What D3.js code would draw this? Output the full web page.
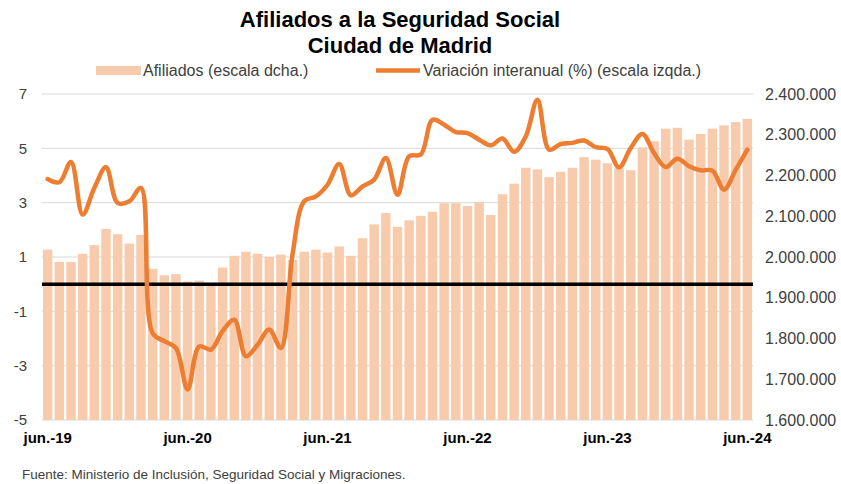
<!DOCTYPE html>
<html>
<head>
<meta charset="utf-8">
<script src="https://cdn.jsdelivr.net/npm/d3@7"></script>
<style>
  body { margin: 0; background: #fff; }
  svg { display: block; font-family: "Liberation Sans", Arial, sans-serif; }
</style>
</head>
<body>
<svg id="chart"></svg>
<script>
// months jun.-19 .. jun.-24
const months = [
  "jun.-19","jul.-19","ago.-19","sep.-19","oct.-19","nov.-19","dic.-19","ene.-20","feb.-20","mar.-20","abr.-20","may.-20",
  "jun.-20","jul.-20","ago.-20","sep.-20","oct.-20","nov.-20","dic.-20","ene.-21","feb.-21","mar.-21","abr.-21","may.-21",
  "jun.-21","jul.-21","ago.-21","sep.-21","oct.-21","nov.-21","dic.-21","ene.-22","feb.-22","mar.-22","abr.-22","may.-22",
  "jun.-22","jul.-22","ago.-22","sep.-22","oct.-22","nov.-22","dic.-22","ene.-23","feb.-23","mar.-23","abr.-23","may.-23",
  "jun.-23","jul.-23","ago.-23","sep.-23","oct.-23","nov.-23","dic.-23","ene.-24","feb.-24","mar.-24","abr.-24","may.-24",
  "jun.-24"
];

// afiliados (escala dcha.)
const afiliados = [
  2018000, 1988000, 1988000, 2008000, 2029000, 2069000, 2056000, 2033000, 2054000, 1971000, 1955000, 1958000,
  1940000, 1942000, 1932000, 1974000, 2003000, 2013000, 2008000, 2000000, 2006000, 1993000, 2013000, 2018000,
  2011000, 2026000, 2003000, 2046000, 2080000, 2108000, 2074000, 2090000, 2101000, 2111000, 2132000, 2132000,
  2125000, 2135000, 2103000, 2154000, 2180000, 2219000, 2215000, 2196000, 2209000, 2219000, 2245000, 2239000,
  2230000, 2218000, 2213000, 2269000, 2284000, 2315000, 2317000, 2288000, 2302000, 2315000, 2323000, 2331000,
  2339000
];

// variación interanual % (escala izqda.)
const variacion = [
  3.87, 3.75, 4.50, 2.56, 3.54, 4.30, 2.99, 3.05, 3.54, -1.80, -2.10, -2.35,
  -3.88, -2.29, -2.41, -1.73, -1.31, -2.65, -2.23, -1.67, -2.35, 1.10, 3.05, 3.23,
  3.66, 4.42, 3.27, 3.60, 3.85, 4.64, 3.29, 4.71, 4.77, 6.05, 5.87, 5.60,
  5.56, 5.32, 5.11, 5.36, 4.87, 5.44, 6.79, 4.95, 5.16, 5.20, 5.29, 5.04,
  4.98, 4.30, 5.01, 5.53, 4.83, 4.31, 4.62, 4.34, 4.19, 4.18, 3.48, 4.21,
  4.95
];

const leftTicks = [7, 5, 3, 1, -1, -3, -5];
const rightTicks = [1600000, 1700000, 1800000, 1900000, 2000000, 2100000, 2200000, 2300000, 2400000];
const xLabels = ["jun.-19", "jun.-20", "jun.-21", "jun.-22", "jun.-23", "jun.-24"];

const W = 841, H = 484;
const margin = { top: 94, left: 42, right: 88, bottom: 64 };
const plotW = W - margin.left - margin.right;
const plotH = H - margin.top - margin.bottom;

const es = d3.formatLocale({ decimal: ",", thousands: ".", grouping: [3], currency: ["", " €"] });
const fmtNum = es.format(",.0f");

const svg = d3.select("#chart").attr("width", W).attr("height", H);
const g = svg.append("g").attr("transform", `translate(${margin.left},${margin.top})`);

const x = d3.scaleBand().domain(months).range([0, plotW]).paddingInner(0.19).paddingOuter(0.08);
const yL = d3.scaleLinear().domain([-5, 7]).range([plotH, 0]);
const yR = d3.scaleLinear().domain([1600000, 2400000]).range([plotH, 0]);

// gridlines
g.append("g").selectAll("line")
  .data(leftTicks)
  .join("line")
  .attr("x1", 0).attr("x2", plotW)
  .attr("y1", d => yL(d)).attr("y2", d => yL(d))
  .attr("stroke", "#d9d9d9").attr("stroke-width", 1);

// bars
g.append("g").selectAll("rect")
  .data(afiliados)
  .join("rect")
  .attr("x", (d, i) => x(months[i]))
  .attr("width", x.bandwidth())
  .attr("y", d => yR(d))
  .attr("height", d => plotH - yR(d))
  .attr("fill", "#f8cbad");

// zero line
g.append("line")
  .attr("x1", 0).attr("x2", plotW)
  .attr("y1", yL(0)).attr("y2", yL(0))
  .attr("stroke", "#000").attr("stroke-width", 3.5);

// variation line
const line = d3.line()
  .x((d, i) => x(months[i]) + x.bandwidth() / 2)
  .y(d => yL(d))
  .curve(d3.curveCatmullRom.alpha(0.5));

g.append("path")
  .datum(variacion)
  .attr("d", line)
  .attr("fill", "none")
  .attr("stroke", "#ed7d31")
  .attr("stroke-width", 4.5)
  .attr("stroke-linejoin", "round")
  .attr("stroke-linecap", "round");

// left axis labels
g.append("g").selectAll("text")
  .data(leftTicks)
  .join("text")
  .attr("x", -15).attr("y", d => yL(d))
  .attr("dy", "0.35em")
  .attr("text-anchor", "end")
  .attr("font-size", 15)
  .attr("fill", "#404040")
  .text(d => d);

// right axis labels
g.append("g").selectAll("text")
  .data(rightTicks)
  .join("text")
  .attr("x", plotW + 12).attr("y", d => yR(d))
  .attr("dy", "0.35em")
  .attr("font-size", 16)
  .attr("fill", "#404040")
  .text(d => fmtNum(d));

// x labels
g.append("g").selectAll("text")
  .data(xLabels)
  .join("text")
  .attr("x", d => x(d) + x.bandwidth() / 2)
  .attr("y", plotH + 23)
  .attr("text-anchor", "middle")
  .attr("font-size", 15)
  .attr("font-weight", "bold")
  .attr("fill", "#000")
  .text(d => d);

// title
svg.append("text")
  .attr("x", 400).attr("y", 27)
  .attr("text-anchor", "middle")
  .attr("font-size", 22).attr("font-weight", "bold")
  .text("Afiliados a la Seguridad Social");
svg.append("text")
  .attr("x", 400).attr("y", 53)
  .attr("text-anchor", "middle")
  .attr("font-size", 22).attr("font-weight", "bold")
  .text("Ciudad de Madrid");

// legend
const leg = svg.append("g");
leg.append("rect").attr("x", 96).attr("y", 66).attr("width", 45).attr("height", 9).attr("fill", "#f8cbad");
leg.append("text").attr("x", 143).attr("y", 76).attr("font-size", 16).attr("fill", "#404040")
  .text("Afiliados (escala dcha.)");
leg.append("line").attr("x1", 376).attr("x2", 420).attr("y1", 70.5).attr("y2", 70.5)
  .attr("stroke", "#ed7d31").attr("stroke-width", 4.5);
leg.append("text").attr("x", 423).attr("y", 76).attr("font-size", 16).attr("fill", "#404040")
  .text("Variación interanual (%) (escala izqda.)");

// source
svg.append("text")
  .attr("x", 22).attr("y", 479)
  .attr("font-size", 13.5).attr("fill", "#404040")
  .text("Fuente: Ministerio de Inclusión, Seguridad Social y Migraciones.");
</script>
</body>
</html>
